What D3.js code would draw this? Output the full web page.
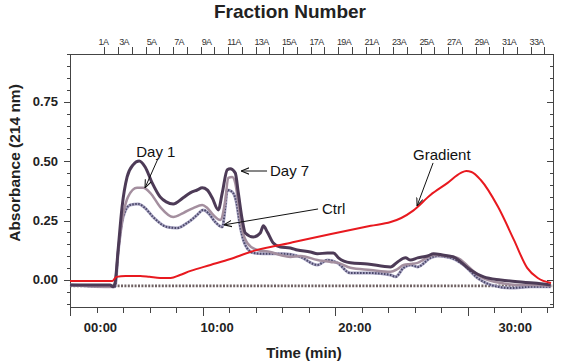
<!DOCTYPE html>
<html>
<head>
<meta charset="utf-8">
<script src="https://cdn.jsdelivr.net/npm/d3@7"></script>
<style>
  body { margin: 0; background: #fff; }
  text { font-family: "Liberation Sans", Arial, sans-serif; }
</style>
</head>
<body>
<div id="chart"></div>
<script>
// time in minutes, absorbance in AU
var gradT = [0, 3.2, 3.5, 4.2, 5.3, 6.0, 6.8, 7.6, 8.3, 9.1, 10.6, 12.1, 13.6, 16.6, 19.7, 22.7, 24.2, 25.0, 25.9, 27.2, 28.5, 29.5, 29.9, 30.3, 31.0, 32.3, 33.5, 34.5, 35.3, 36.3];
var gradV = [-0.004, -0.004, 0.013, 0.017, 0.017, 0.013, 0.008, 0.008, 0.021, 0.038, 0.063, 0.088, 0.118, 0.156, 0.194, 0.228, 0.244, 0.261, 0.292, 0.358, 0.409, 0.451, 0.459, 0.455, 0.421, 0.308, 0.169, 0.051, 0.008, -0.013];

var day7T = [0, 3.02, 3.25, 3.40, 3.63, 3.93, 4.31, 4.76, 5.22, 5.67, 6.20, 6.80, 7.26, 7.79, 8.54, 9.07, 9.60, 9.98, 10.36, 10.73, 11.19, 11.49, 11.87, 12.09, 12.47, 12.70, 13.00, 13.23, 13.83, 14.36, 14.59, 14.89, 15.34, 15.87, 16.63, 17.16, 18.14, 18.67, 19.43, 19.88, 20.26, 21.16, 22.45, 24.19, 24.72, 25.32, 25.70, 26.23, 26.98, 27.44, 28.12, 28.95, 29.48, 30.23, 31.22, 32.50, 33.79, 35.00, 36.28];
var day7V = [-0.021, -0.021, -0.029, -0.013, 0.126, 0.308, 0.434, 0.485, 0.501, 0.476, 0.409, 0.350, 0.329, 0.320, 0.346, 0.367, 0.379, 0.388, 0.379, 0.346, 0.295, 0.367, 0.464, 0.468, 0.451, 0.367, 0.253, 0.198, 0.181, 0.198, 0.228, 0.202, 0.156, 0.139, 0.135, 0.126, 0.118, 0.110, 0.114, 0.114, 0.093, 0.072, 0.067, 0.055, 0.076, 0.093, 0.084, 0.093, 0.101, 0.110, 0.105, 0.097, 0.076, 0.042, 0.013, 0.0, -0.008, -0.013, -0.021];

var day1T = [0, 3.25, 3.40, 3.63, 4.01, 4.38, 5.06, 5.52, 6.05, 6.80, 7.79, 8.54, 9.30, 9.98, 10.36, 10.81, 11.34, 11.72, 11.94, 12.24, 12.47, 12.70, 13.00, 13.38, 14.13, 15.12, 15.87, 16.63, 17.38, 18.67, 19.65, 20.26, 21.16, 22.68, 24.19, 24.72, 25.17, 25.70, 26.23, 27.44, 28.34, 29.25, 30.01, 30.76, 31.75, 32.50, 33.79, 35.0, 36.28];
var day1V = [-0.021, -0.029, -0.013, 0.118, 0.274, 0.350, 0.388, 0.388, 0.367, 0.308, 0.265, 0.282, 0.303, 0.316, 0.303, 0.274, 0.253, 0.337, 0.430, 0.434, 0.409, 0.324, 0.211, 0.156, 0.126, 0.118, 0.105, 0.097, 0.101, 0.084, 0.076, 0.072, 0.051, 0.042, 0.034, 0.046, 0.063, 0.067, 0.072, 0.105, 0.101, 0.093, 0.059, 0.021, -0.004, -0.013, -0.021, -0.021, -0.025];

var ctrlT = [0, 3.25, 3.40, 3.63, 4.01, 4.54, 5.14, 5.67, 6.27, 7.33, 8.09, 8.84, 9.60, 10.05, 10.43, 10.96, 11.49, 11.72, 11.87, 12.24, 12.55, 12.85, 13.23, 13.83, 14.59, 15.12, 16.10, 17.38, 18.67, 19.43, 20.18, 21.16, 22.68, 24.19, 24.57, 25.17, 25.70, 26.23, 27.21, 27.74, 28.72, 29.71, 30.76, 31.75, 33.26, 34.77, 36.28];
var ctrlV = [-0.021, -0.029, -0.029, 0.114, 0.265, 0.316, 0.320, 0.303, 0.265, 0.223, 0.219, 0.240, 0.274, 0.295, 0.282, 0.244, 0.223, 0.308, 0.379, 0.371, 0.329, 0.223, 0.147, 0.114, 0.110, 0.110, 0.110, 0.097, 0.063, 0.084, 0.072, 0.029, 0.029, 0.021, 0.013, 0.051, 0.063, 0.055, 0.093, 0.101, 0.093, 0.063, 0.008, -0.021, -0.034, -0.029, -0.029];

var baselineLevel = -0.025;

var yTickValues = [0, 0.25, 0.5, 0.75];
var timeLabels = ["00:00", "10:00", "20:00", "30:00"];
var timeLabelAt = [2.3, 11.1, 21.5, 33.6];   // where the labels sit on the time axis (min)
var fracStart = 2.6, fracWidth = 1.0377, fracCount = 33;

// annotation: label, text pos [t, v], arrow from, arrow to
var notes = [
  ["Day 1", [5.0, 0.518], [6.6, 0.506], [5.66, 0.388]],
  ["Day 7", [15.09, 0.438], [14.87, 0.459], [12.91, 0.459]],
  ["Ctrl", [19.02, 0.278], [18.72, 0.299], [11.62, 0.232]],
  ["Gradient", [25.89, 0.506], [27.4, 0.493], [26.19, 0.312]]
];

var W = 561, H = 364;
var pL = 70, pR = 553, pT = 54, pB = 307;

var svg = d3.select("#chart").append("svg")
    .attr("width", W).attr("height", H);

var x = d3.scaleLinear().domain([0, 36.45]).range([pL, pR]);
var y = d3.scaleLinear().domain([-0.114, 0.952]).range([pB, pT]);

var axisCol = "#444";

// frame
svg.append("rect")
    .attr("x", pL + 0.5).attr("y", pT + 0.5)
    .attr("width", pR - pL).attr("height", pB - pT)
    .attr("fill", "none").attr("stroke", axisCol).attr("stroke-width", 1);

// y ticks (left outward, right inward)
var yMinor = d3.range(-0.1, 0.951, 0.05).map(function(d){ return +d.toFixed(2); });
svg.selectAll(".ytick").data(yMinor).enter().append("line")
    .attr("x1", pL).attr("x2", function(d){ return pL - (yTickValues.indexOf(d) >= 0 ? 6 : 3); })
    .attr("y1", function(d){ return Math.round(y(d)) + 0.5; })
    .attr("y2", function(d){ return Math.round(y(d)) + 0.5; })
    .attr("stroke", axisCol);
svg.selectAll(".ytickr").data(yMinor).enter().append("line")
    .attr("x1", pR).attr("x2", function(d){ return pR - (yTickValues.indexOf(d) >= 0 ? 6 : 3); })
    .attr("y1", function(d){ return Math.round(y(d)) + 0.5; })
    .attr("y2", function(d){ return Math.round(y(d)) + 0.5; })
    .attr("stroke", axisCol);
svg.selectAll(".ylab").data(yTickValues).enter().append("text")
    .attr("x", 58).attr("y", function(d){ return y(d) + 4.5; })
    .attr("text-anchor", "end")
    .style("font-size", "13px").style("font-weight", "bold")
    .attr("fill", "#222")
    .text(d3.format(".2f"));

// time ticks
var tMinor = d3.range(0, 36.1, 2);
svg.selectAll(".xtick").data(tMinor).enter().append("line")
    .attr("x1", function(d){ return Math.round(x(d)) + 0.5; })
    .attr("x2", function(d){ return Math.round(x(d)) + 0.5; })
    .attr("y1", pB)
    .attr("y2", function(d){ return pB + (d % 10 === 0 ? 9 : 6); })
    .attr("stroke", axisCol);
svg.selectAll(".xlab").data(timeLabels).enter().append("text")
    .attr("x", function(d, i){ return x(timeLabelAt[i]); })
    .attr("y", 332)
    .attr("text-anchor", "middle")
    .style("font-size", "13px").style("font-weight", "bold")
    .attr("fill", "#222")
    .text(function(d){ return d; });

// fraction ticks on top
var fracTicks = d3.range(0, fracCount);
svg.selectAll(".ftick").data(fracTicks).enter().append("line")
    .attr("x1", function(k){ return Math.round(x(fracStart + k * fracWidth)) + 0.5; })
    .attr("x2", function(k){ return Math.round(x(fracStart + k * fracWidth)) + 0.5; })
    .attr("y1", pT).attr("y2", pT - 7)
    .attr("stroke", axisCol);
var fracLabels = d3.range(1, fracCount + 1, 2);
svg.selectAll(".flab").data(fracLabels).enter().append("text")
    .attr("x", function(n){ return x(Math.max(fracStart, fracStart + (n - 1.5) * fracWidth)) - 1; })
    .attr("y", 45)
    .attr("text-anchor", "middle")
    .style("font-size", "9px").style("letter-spacing", "-0.6px")
    .attr("fill", "#333")
    .text(function(n){ return n + "A"; });

// titles
svg.append("text").attr("x", 290).attr("y", 18).attr("text-anchor", "middle")
    .style("font-size", "19px").style("font-weight", "bold").attr("fill", "#222")
    .text("Fraction Number");
svg.append("text").attr("x", 304).attr("y", 358).attr("text-anchor", "middle")
    .style("font-size", "15px").style("font-weight", "bold").attr("fill", "#222")
    .text("Time (min)");
svg.append("text").attr("transform", "translate(20,163) rotate(-90)").attr("text-anchor", "middle")
    .style("font-size", "15.5px").style("font-weight", "bold").attr("fill", "#222")
    .text("Absorbance (214 nm)");

var plot = svg.append("g");

function zip(ts, vs){ return ts.map(function(t, i){ return [t, vs[i]]; }); }
var line = d3.line()
    .x(function(d){ return x(d[0]); })
    .y(function(d){ return y(d[1]); })
    .curve(d3.curveMonotoneX);

// dotted baseline
plot.append("line")
    .attr("x1", x(0)).attr("x2", x(36.45))
    .attr("y1", y(baselineLevel)).attr("y2", y(baselineLevel))
    .attr("stroke", "#6f6162").attr("stroke-width", 2.6)
    .attr("stroke-dasharray", "2,1.4");

// ctrl: light body plus dotted dark
plot.append("path").attr("d", line(zip(ctrlT, ctrlV)))
    .attr("fill", "none").attr("stroke", "#a8a3c2").attr("stroke-width", 3);
plot.append("path").attr("d", line(zip(ctrlT, ctrlV)))
    .attr("fill", "none").attr("stroke", "#4a4868").attr("stroke-width", 2)
    .attr("stroke-dasharray", "1.5,1.5");

plot.append("path").attr("d", line(zip(day1T, day1V)))
    .attr("fill", "none").attr("stroke", "#a48f9f").attr("stroke-width", 2.5)
    .attr("stroke-linejoin", "round");

plot.append("path").attr("d", line(zip(day7T, day7V)))
    .attr("fill", "none").attr("stroke", "#4d3b57").attr("stroke-width", 3)
    .attr("stroke-linejoin", "round");

plot.append("path").attr("d", line(zip(gradT, gradV)))
    .attr("fill", "none").attr("stroke", "#e8191f").attr("stroke-width", 2)
    .attr("stroke-linejoin", "round");

// annotations
svg.append("defs").append("marker")
    .attr("id", "arr").attr("viewBox", "0 0 10 10")
    .attr("refX", 10).attr("refY", 5)
    .attr("markerWidth", 8).attr("markerHeight", 8)
    .attr("orient", "auto")
  .append("path").attr("d", "M0,1 L10,5 L0,9")
    .attr("fill", "none").attr("stroke", "#111").attr("stroke-width", 1.3);

var ann = svg.append("g");
notes.forEach(function(n){
  ann.append("line")
    .attr("x1", x(n[2][0])).attr("y1", y(n[2][1]))
    .attr("x2", x(n[3][0])).attr("y2", y(n[3][1]))
    .attr("stroke", "#111").attr("stroke-width", 1)
    .attr("marker-end", "url(#arr)");
  ann.append("text")
    .attr("x", x(n[1][0])).attr("y", y(n[1][1]))
    .style("font-size", "15px").attr("fill", "#111")
    .text(n[0]);
});
</script>
</body>
</html>
